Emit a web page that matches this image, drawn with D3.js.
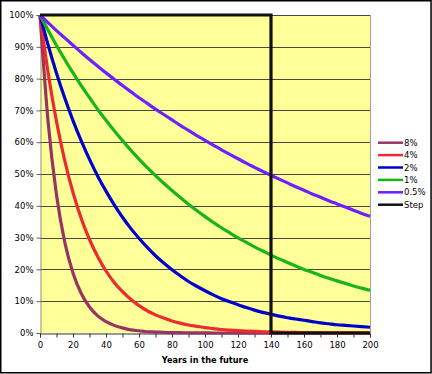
<!DOCTYPE html>
<html><head><meta charset="utf-8">
<script src="https://cdn.jsdelivr.net/npm/d3@7"></script>
<style>body{margin:0;background:#fff}svg{display:block}text{font-family:"DejaVu Sans",Verdana,sans-serif;fill:#000}</style>
</head><body><svg id="c" width="432" height="374"></svg>
<script>
const years = d3.range(0, 201, 5);
const r8 = [1,0.659,0.434,0.286,0.189,0.124,0.082,0.054,0.036,0.024,0.016,0.010,0.007,0.004,0.003,0.002,0.001,0.001,0.0005,0.0003,0.0002,0,0,0,0,0,0,0,0,0,0,0,0,0,0,0,0,0,0,0,0];
const r4 = [1,0.815,0.665,0.542,0.442,0.360,0.294,0.240,0.195,0.159,0.130,0.106,0.086,0.070,0.057,0.047,0.038,0.031,0.025,0.021,0.017,0.014,0.011,0.009,0.0074,0.0061,0.0050,0.0040,0.0033,0.0027,0.0022,0.0018,0.0015,0.0012,0.0010,0.0008,0.0006,0.0005,0.0004,0.0003,0.0003];
const r2 = [1,0.904,0.817,0.739,0.668,0.604,0.546,0.493,0.446,0.403,0.364,0.329,0.298,0.269,0.243,0.220,0.199,0.180,0.162,0.147,0.133,0.120,0.108,0.098,0.089,0.080,0.072,0.065,0.059,0.053,0.048,0.044,0.040,0.036,0.032,0.029,0.026,0.024,0.022,0.020,0.018];
const r1 = [1,0.951,0.904,0.860,0.818,0.778,0.740,0.703,0.669,0.636,0.605,0.575,0.547,0.520,0.495,0.471,0.448,0.426,0.405,0.385,0.366,0.348,0.331,0.315,0.299,0.285,0.271,0.258,0.245,0.233,0.222,0.211,0.200,0.191,0.181,0.172,0.164,0.156,0.148,0.141,0.134];
const r05 = [1,0.975,0.951,0.928,0.905,0.882,0.860,0.839,0.818,0.798,0.778,0.759,0.740,0.722,0.704,0.687,0.670,0.653,0.637,0.621,0.606,0.591,0.576,0.562,0.548,0.534,0.521,0.508,0.496,0.484,0.472,0.460,0.449,0.437,0.427,0.416,0.406,0.396,0.386,0.376,0.367];
const stepYears = [0, 140, 140, 200];
const stepValues = [1, 1, 0, 0];
const seriesNames = ["8%", "4%", "2%", "1%", "0.5%", "Step"];
const seriesColors = ["#993366", "#EC2B30", "#0000CC", "#19B419", "#7020FF", "#111111"];
const xTicks = d3.range(0, 201, 20);
const yTicks = d3.range(0, 1.01, 0.1);

const svg = d3.select("#c");
const L = 40, R = 370, T = 15, B = 333;
const x = d3.scaleLinear().domain([0, 200]).range([L, R]);
const y = d3.scaleLinear().domain([0, 1]).range([B, T]);

svg.append("rect").attr("x", L).attr("y", T).attr("width", R - L).attr("height", B - T).attr("fill", "#FFFF99");

// gridlines
svg.append("g").selectAll("line").data(yTicks.slice(1)).join("line")
  .attr("x1", L).attr("x2", R).attr("y1", d => Math.round(y(d)) + 0.5).attr("y2", d => Math.round(y(d)) + 0.5)
  .attr("stroke", "#4a4a3a").attr("stroke-width", 1);
// right border
svg.append("line").attr("x1", R + 0.5).attr("x2", R + 0.5).attr("y1", T).attr("y2", B).attr("stroke", "#a0a0a0");

// axes
const yAxis = d3.axisLeft(y).tickValues(yTicks).tickFormat(d3.format(".0%")).tickSize(4).tickPadding(3);
const gy = svg.append("g").attr("transform", `translate(${L + 0.5},0)`).call(yAxis);
gy.select(".domain").attr("stroke", "#909090");
gy.selectAll(".tick line").attr("stroke", "#606060");
gy.selectAll("text").style("font-size", "8.5px").attr("fill", "#000");

const xAxis = d3.axisBottom(x).tickValues(d3.range(0, 201, 10)).tickFormat(d => d % 20 === 0 ? d : "").tickSize(4).tickPadding(4);
const gx = svg.append("g").attr("transform", `translate(0,${B + 0.5})`).call(xAxis);
gx.select(".domain").attr("stroke", "#303030");
gx.selectAll(".tick line").attr("stroke", "#303030");
gx.selectAll("text").style("font-size", "8.5px").attr("fill", "#000");

svg.append("text").attr("x", (L + R) / 2).attr("y", 363).attr("text-anchor", "middle")
  .style("font-size", "8.2px").style("font-weight", "bold").text("Years in the future");

// curves
const clip = svg.append("clipPath").attr("id", "pc").append("rect").attr("x", L - 2).attr("y", T - 3).attr("width", R - L + 3).attr("height", B - T + 5);
const line = d3.line().x(d => x(d[0])).y(d => y(d[1])).curve(d3.curveMonotoneX);
const data = [r8, r4, r2, r1, r05];
const g = svg.append("g").attr("clip-path", "url(#pc)");
data.forEach((vals, i) => {
  g.append("path").datum(years.map((yr, j) => [yr, vals[j]]))
    .attr("d", line).attr("fill", "none").attr("stroke", seriesColors[i])
    .attr("stroke-width", 3.2).attr("stroke-linejoin", "round");
});
const stepLine = d3.line().x(d => x(d[0])).y(d => y(d[1]));
g.append("path").datum(stepYears.map((yr, j) => [yr, stepValues[j]]))
  .attr("d", stepLine).attr("fill", "none").attr("stroke", seriesColors[5]).attr("stroke-width", 3.2);

// legend
const lg = svg.append("g");
seriesNames.forEach((n, i) => {
  const yy = 142.7 + i * 12.4;
  lg.append("line").attr("x1", 378).attr("x2", 403).attr("y1", yy).attr("y2", yy)
    .attr("stroke", seriesColors[i]).attr("stroke-width", 2.5);
  lg.append("text").attr("x", 404).attr("y", yy + 3).style("font-size", "8.5px").text(n);
});

// frame
svg.append("rect").attr("x", 0.75).attr("y", 0.75).attr("width", 430.3).attr("height", 372)
  .attr("fill", "none").attr("stroke", "#000").attr("stroke-width", 1.5);
</script></body></html>
